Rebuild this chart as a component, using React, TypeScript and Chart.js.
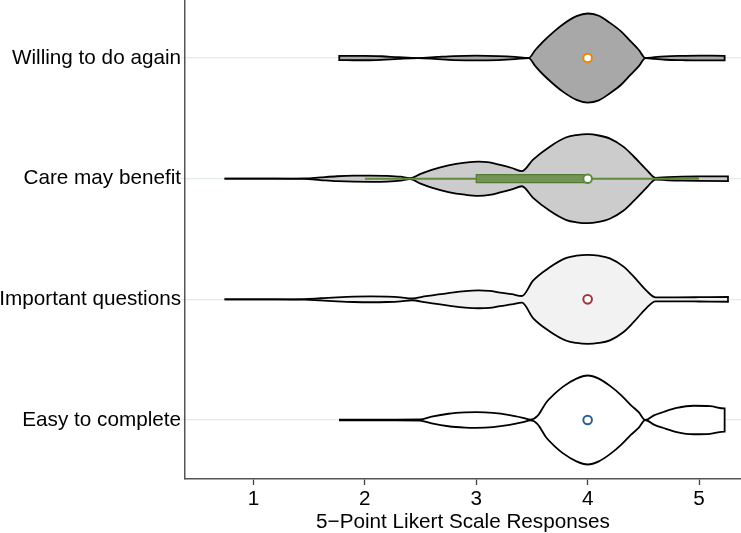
import React, { useEffect, useRef } from 'react';
import { Chart, registerables } from 'chart.js';

Chart.register(...registerables);

// ---- Data ----
const categories = ['Easy to complete', 'Important questions', 'Care may benefit', 'Willing to do again'];
const categoryPos = [1, 2, 3, 4];
const xTicks = [1, 2, 3, 4, 5];
const medians = [4, 4, 4, 4];

// Violin outlines: x positions and relative half-widths (1 = widest)
const easyX = [1.776, 2.2, 2.495, 2.6, 2.75, 2.9, 3.0, 3.15, 3.3, 3.42, 3.49, 3.55, 3.63, 3.7, 3.78, 3.9, 4.0, 4.1, 4.21, 4.3, 4.39, 4.46, 4.517, 4.6, 4.68, 4.8, 4.95, 5.1, 5.23];
const easyW = [0.01, 0.01, 0.012, 0.075, 0.14, 0.17, 0.175, 0.16, 0.11, 0.05, 0.01, 0.09, 0.4, 0.58, 0.75, 0.93, 1.0, 0.93, 0.75, 0.56, 0.33, 0.17, 0.0, 0.11, 0.18, 0.27, 0.32, 0.31, 0.26];

const importantX = [0.74, 1.2, 1.46, 1.6, 1.75, 1.9, 2.05, 2.2, 2.32, 2.42, 2.55, 2.75, 2.9, 3.02, 3.12, 3.215, 3.32, 3.41, 3.51, 3.66, 3.81, 3.9, 4.0, 4.1, 4.2, 4.32, 4.41, 4.53, 4.61, 4.8, 5.0, 5.26];
const importantW = [0.0, 0.0, 0.005, 0.025, 0.045, 0.06, 0.065, 0.06, 0.045, 0.02, 0.07, 0.14, 0.185, 0.2, 0.19, 0.15, 0.115, 0.075, 0.42, 0.72, 0.93, 0.98, 1.0, 0.98, 0.92, 0.74, 0.52, 0.19, 0.045, 0.045, 0.048, 0.054];

const careX = [0.74, 1.2, 1.46, 1.6, 1.75, 1.9, 2.05, 2.2, 2.32, 2.405, 2.5, 2.6, 2.75, 2.9, 3.02, 3.12, 3.215, 3.32, 3.41, 3.51, 3.66, 3.81, 3.9, 4.0, 4.1, 4.2, 4.32, 4.41, 4.53, 4.61, 4.72, 4.85, 5.0, 5.26];
const careW = [0.0, 0.0, 0.005, 0.03, 0.055, 0.068, 0.07, 0.065, 0.045, 0.01, 0.11, 0.2, 0.3, 0.36, 0.385, 0.365, 0.31, 0.24, 0.17, 0.43, 0.72, 0.93, 0.98, 1.0, 0.97, 0.9, 0.72, 0.51, 0.2, 0.02, 0.035, 0.045, 0.05, 0.054];

const willingX = [1.77, 1.9, 2.0, 2.15, 2.3, 2.48, 2.65, 2.8, 3.0, 3.2, 3.35, 3.47, 3.53, 3.6, 3.7, 3.78, 3.9, 4.0, 4.1, 4.2, 4.3, 4.38, 4.46, 4.52, 4.6, 4.7, 4.85, 5.0, 5.23];
const willingW = [0.047, 0.05, 0.05, 0.04, 0.018, 0.0, 0.025, 0.045, 0.054, 0.045, 0.025, 0.0, 0.18, 0.37, 0.6, 0.76, 0.94, 1.0, 0.95, 0.79, 0.6, 0.39, 0.18, 0.0, 0.02, 0.038, 0.048, 0.054, 0.05];

// Box plot for "Care may benefit"
const careBox = [3, 4];
const careWhisker = [2, 5];

// ---- Styles ----
const violinFills = ['#ffffff', '#f2f2f2', '#cccccc', '#a8a8a8'];
const medianColors = ['#2d5f93', '#a3323c', '#5b8a3a', '#e8870e'];
const FONT = "'Liberation Sans', Arial, Helvetica, sans-serif";
const X_MIN = 0.385;
const X_MAX = 5.377;
const Y_MIN = 0.511;
const Y_MAX = 4.481;
const HALF = 0.369; // widest half-width in y units
const BOX_HALF = 0.033;

function violinDatasets(xs: number[], ws: number[], pos: number, fill: string) {
  const n = xs.length;
  const start = { x: xs[0], y: pos };
  const end = { x: xs[n - 1], y: pos };
  const upper = [start, ...xs.map((x, i) => ({ x, y: pos + ws[i] * HALF })), end];
  const lower = [start, ...xs.map((x, i) => ({ x, y: pos - ws[i] * HALF })), end];
  const common = {
    borderColor: '#000000',
    borderWidth: 1.8,
    pointRadius: 0,
    pointHoverRadius: 0,
    cubicInterpolationMode: 'monotone' as const,
    order: 10,
  };
  return [
    { ...common, data: upper, fill: false },
    { ...common, data: lower, fill: '-1', backgroundColor: fill },
  ];
}

function zeroPadding(s: any) {
  s.paddingTop = 0;
  s.paddingBottom = 0;
  s.paddingLeft = 0;
  s.paddingRight = 0;
}

export default function App() {
  const ref = useRef<HTMLCanvasElement | null>(null);

  useEffect(() => {
    if (!ref.current) return;
    const violins = [
      [easyX, easyW],
      [importantX, importantW],
      [careX, careW],
      [willingX, willingW],
    ];
    const datasets: any[] = [];
    violins.forEach(([xs, ws], i) => {
      datasets.push(...violinDatasets(xs as number[], ws as number[], categoryPos[i], violinFills[i]));
    });
    const carePos = categoryPos[2];
    // whisker
    datasets.push({
      data: [
        { x: careWhisker[0], y: carePos },
        { x: careWhisker[1], y: carePos },
      ],
      borderColor: '#5e8b3d',
      borderWidth: 2,
      pointRadius: 0,
      fill: false,
      order: 5,
    });
    // box
    const boxCommon = { borderColor: '#557a37', borderWidth: 1.2, pointRadius: 0, tension: 0, order: 4 };
    datasets.push({
      ...boxCommon,
      data: [
        { x: careBox[0], y: carePos },
        { x: careBox[0], y: carePos + BOX_HALF },
        { x: careBox[1], y: carePos + BOX_HALF },
        { x: careBox[1], y: carePos },
      ],
      fill: false,
    });
    datasets.push({
      ...boxCommon,
      data: [
        { x: careBox[0], y: carePos },
        { x: careBox[0], y: carePos - BOX_HALF },
        { x: careBox[1], y: carePos - BOX_HALF },
        { x: careBox[1], y: carePos },
      ],
      fill: '-1',
      backgroundColor: '#739455',
    });
    // medians
    datasets.push({
      data: categoryPos.map((p, i) => ({ x: medians[i], y: p })),
      showLine: false,
      pointRadius: 4.3,
      pointBorderWidth: 2,
      pointBackgroundColor: '#ffffff',
      pointBorderColor: medianColors,
      order: 1,
    });

    const chart = new Chart(ref.current, {
      type: 'line',
      data: { datasets },
      options: {
        animation: false,
        responsive: false,
        events: [],
        layout: { padding: 0, autoPadding: false },
        plugins: { legend: { display: false }, tooltip: { enabled: false } },
        scales: {
          x: {
            type: 'linear',
            position: 'bottom',
            min: X_MIN,
            max: X_MAX,
            afterBuildTicks: (s: any) => {
              s.ticks = xTicks.map((v) => ({ value: v }));
            },
            afterFit: (s: any) => {
              s.height = 533 - 479;
              zeroPadding(s);
            },
            ticks: {
              color: '#000000',
              font: { family: FONT, size: 20.7 },
              padding: 2,
              maxRotation: 0,
              autoSkip: false,
            },
            grid: {
              drawOnChartArea: false,
              drawTicks: true,
              tickLength: 6,
              tickColor: '#444444',
              tickWidth: 1.3,
            },
            border: { display: true, color: '#555555', width: 1.5 },
            title: {
              display: true,
              text: '5\u2212Point Likert Scale Responses',
              color: '#000000',
              font: { family: FONT, size: 20.7 },
              padding: { top: 0, bottom: -2 },
            },
          },
          y: {
            type: 'linear',
            min: Y_MIN,
            max: Y_MAX,
            afterBuildTicks: (s: any) => {
              s.ticks = [Y_MIN, ...categoryPos, Y_MAX].map((v) => ({ value: v }));
            },
            afterFit: (s: any) => {
              s.width = 185;
              zeroPadding(s);
            },
            ticks: {
              callback: (v: any) => {
                const i = categoryPos.indexOf(v);
                return i >= 0 ? categories[i] : null;
              },
              color: '#000000',
              font: { family: FONT, size: 20.7 },
              padding: 0,
              autoSkip: false,
            },
            grid: {
              color: (ctx: any) =>
                ctx.tick && categoryPos.includes(ctx.tick.value) ? '#e3ecec' : 'rgba(0,0,0,0)',
              lineWidth: 1.3,
              drawTicks: true,
              tickLength: 4,
            },
            border: { display: true, color: '#555555', width: 1.5 },
          },
        },
      },
    });
    return () => chart.destroy();
  }, []);

  return (
    <div style={{ position: 'fixed', left: 0, top: 0, width: 741, height: 533, background: '#fff' }}>
      <canvas ref={ref} width={741} height={533} style={{ display: 'block', width: 741, height: 533 }} />
    </div>
  );
}
